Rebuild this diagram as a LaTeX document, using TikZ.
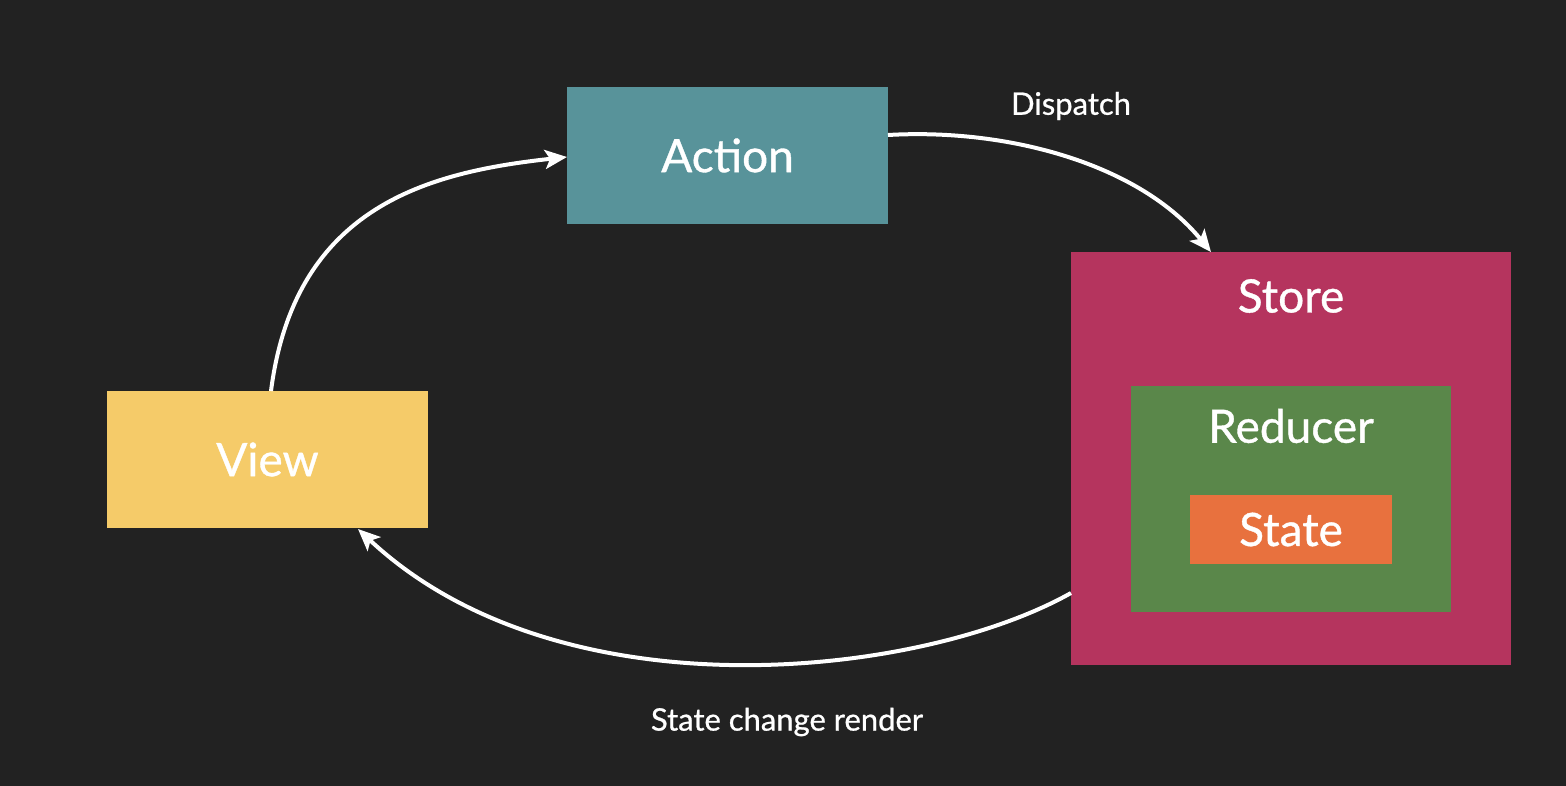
\documentclass[tikz,border=0pt]{standalone}
\usepackage{fontspec}
\setmainfont{Lato}[FakeBold=0.8]
\usetikzlibrary{arrows.meta}
\definecolor{bg}{HTML}{222222}
\definecolor{actioncol}{HTML}{58939A}
\definecolor{viewcol}{HTML}{F5CB69}
\definecolor{storecol}{HTML}{B5345E}
\definecolor{reducercol}{HTML}{5A874A}
\definecolor{statecol}{HTML}{E8713E}
\tikzset{
  box/.style={rectangle, inner sep=0pt, outer sep=0pt, anchor=north west},
  boxtext/.style={text=white, font=\fontsize{46}{52}\selectfont},
  lbl/.style={text=white, font=\fontsize{31}{36}\selectfont},
  flow/.style={draw=white, line width=4pt, -{Stealth[length=22pt,width=19pt,inset=5pt]}},
}
\begin{document}
\begin{tikzpicture}[x=1pt,y=-1pt]
\fill[bg] (0,0) rectangle (1566,786);
\useasboundingbox (0,0) rectangle (1566,786);
% boxes
\node[box, fill=actioncol, minimum width=321pt, minimum height=137pt] (action) at (567,87) {};
\node[box, fill=viewcol, minimum width=321pt, minimum height=137pt] (view) at (107,391) {};
\node[box, fill=storecol, minimum width=440pt, minimum height=413pt] (store) at (1071,252) {};
\node[box, fill=reducercol, minimum width=320pt, minimum height=226pt] (reducer) at (1131,386) {};
\node[box, fill=statecol, minimum width=202pt, minimum height=69pt] (state) at (1190,495) {};
% texts
\node[boxtext] (actiont) at (action.center) {Action};
\node[boxtext] (viewt) at (view.center) {View};
\node[boxtext] (storet) at (1291,296) {Store};
\node[boxtext] (reducert) at (1291,426) {Reducer};
\node[boxtext] (statet) at (state.center) {State};
\node[lbl] (dispatch) at (1071,106) {Dispatch};
\node[lbl] (render) at (787,722) {State change render};
% connectors
\coordinate (vtop) at (271,391);
\coordinate (aleft) at (567,157);
\coordinate (aright) at (888,135);
\coordinate (stop) at (1211,252);
\coordinate (sleft) at (1071,593);
\coordinate (vbot) at (358,529);
\draw[flow] (vtop) .. controls (295,205) and (430,172) .. (aleft);
\draw[flow] (aright) .. controls (1010,128) and (1140,165) .. (stop);
\draw[flow] (sleft) .. controls (920,678) and (560,718) .. (vbot);
\end{tikzpicture}
\end{document}
